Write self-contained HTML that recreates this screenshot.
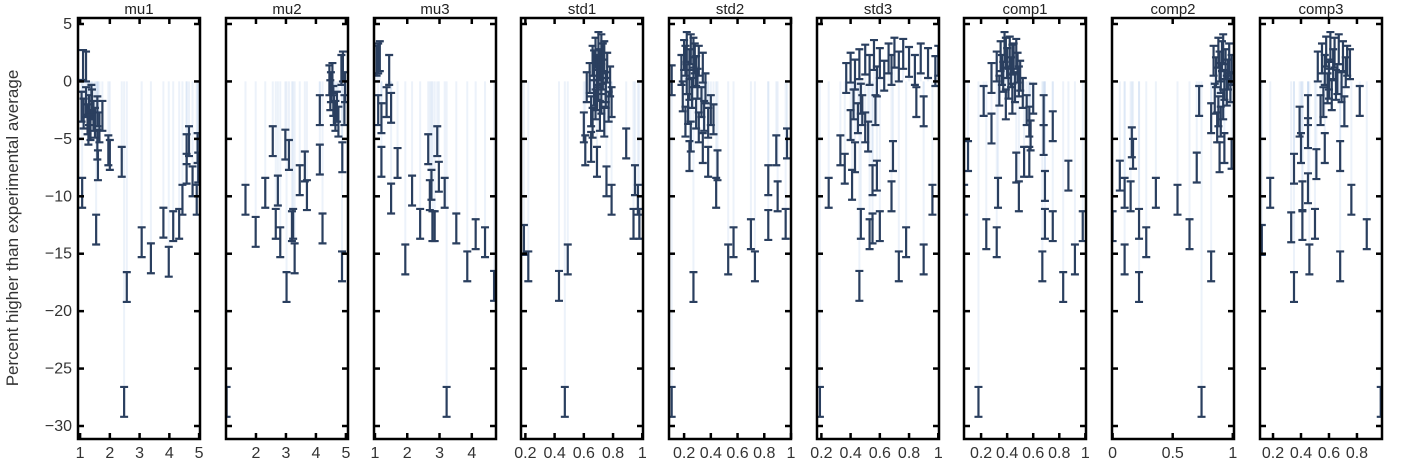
<!DOCTYPE html>
<html><head><meta charset="utf-8"><style>
html,body{margin:0;padding:0;background:#fff;}
svg{display:block;font-family:"Liberation Sans",Arial,sans-serif;}
</style></head><body>
<svg id="chart" width="1420" height="472" viewBox="0 0 1420 472">
<text x="18" y="228" transform="rotate(-90 18 228)" text-anchor="middle" font-size="17" fill="#333">Percent higher than experimental average</text>
</svg>
<script>
const yTicks=[5,0,-5,-10,-15,-20,-25,-30];
const yTickLabels=["5","0","−5","−10","−15","−20","−25","−30"];
const errHalf=1.3;
const panelNames=["mu1","mu2","mu3","std1","std2","std3","comp1","comp2","comp3"];
const panelRanges=[[0.93,5.03],[1.0,5.07],[0.97,4.75],[0.17,1.005],[0.087,1.0],[0.17,1.005],[0.069,1.005],[-0.005,1.01],[0.107,0.979]];
const panelTicks=[[1,2,3,4,5],[2,3,4,5],[1,2,3,4],[0.2,0.4,0.6,0.8,1],[0.2,0.4,0.6,0.8,1],[0.2,0.4,0.6,0.8,1],[0.2,0.4,0.6,0.8,1],[0,0.5,1],[0.2,0.4,0.6,0.8]];
const panelTickLabels=[["1","2","3","4","5"],["2","3","4","5"],["1","2","3","4"],["0.2","0.4","0.6","0.8","1"],["0.2","0.4","0.6","0.8","1"],["0.2","0.4","0.6","0.8","1"],["0.2","0.4","0.6","0.8","1"],["0","0.5","1"],["0.2","0.4","0.6","0.8"]];

const mu1X=[1.1,1.2,1.05,1.12,1.2,1.25,1.3,1.35,1.4,1.45,1.5,1.58,1.65,1.75,1.38,1.28,1.07,1.54,1.6,1.58,1.95,2.0,2.4,2.57,2.48,3.07,3.38,3.8,3.98,4.13,4.33,4.44,4.58,4.58,4.66,4.78,4.92,4.95,4.97];
const mu1Y=[1.43,1.3,-2.2,-2.8,-1.8,-3.3,-2.5,-3.8,-2.0,-3.0,-3.6,-2.6,-4.0,-3.0,-1.6,-4.2,-9.7,-12.9,-7.3,-5.5,-6.0,-6.4,-7.0,-17.9,-27.9,-14.0,-15.4,-12.3,-15.7,-12.6,-12.4,-10.3,-7.6,-5.9,-5.2,-8.7,-10.3,-5.8,-7.5];

const mu2X=[1.02,1.65,1.99,2.31,2.56,2.66,2.73,2.81,2.98,3.02,3.1,3.2,3.24,3.29,3.46,3.63,3.7,4.13,4.13,4.22,4.45,4.5,4.48,4.55,4.6,4.58,4.65,4.7,4.75,4.85,4.9,4.95,4.87,4.88,4.97];
const mu2Y=[-27.9,-10.3,-13.1,-9.7,-5.2,-12.4,-9.5,-14.0,-5.5,-17.9,-6.4,-12.6,-12.4,-15.4,-8.6,-7.4,-9.9,-2.5,-6.8,-12.8,0.1,-0.5,-1.2,0.3,-2.5,-1.7,-3.0,-2.2,-3.5,1.0,1.3,-2.5,-16.1,-6.6,-0.5];

const mu3X=[1.05,1.1,1.15,1.44,1.1,1.2,1.36,1.5,1.2,1.5,1.7,1.94,2.15,2.4,2.65,2.7,2.75,2.78,2.85,2.93,2.98,3.16,3.22,3.52,3.86,4.12,4.41,4.69];
const mu3Y=[1.8,2.0,2.2,1.0,-2.5,-3.2,-1.8,-2.3,-7.0,-10.2,-7.1,-15.5,-9.5,-12.4,-5.9,-9.9,-9.0,-12.6,-12.6,-5.2,-8.3,-9.7,-27.9,-12.8,-16.1,-13.3,-14.0,-17.8];

const std1X=[0.70,0.72,0.68,0.74,0.66,0.71,0.76,0.69,0.73,0.64,0.78,0.70,0.67,0.75,0.62,0.72,0.68,0.77,0.65,0.71,0.74,0.69,0.73,0.70,0.66,0.72,0.75,0.67,0.79,0.19,0.22,0.43,0.49,0.47,0.60,0.61,0.65,0.69,0.755,0.79,0.89,0.95,0.94,0.97,0.98];
const std1Y=[3.0,2.8,2.5,2.2,1.8,1.5,1.2,1.0,0.6,0.3,0.0,-0.3,-0.8,-1.0,-0.5,-1.5,-2.0,-2.2,-2.6,-3.0,-3.5,-1.2,2.0,0.8,-3.6,0.2,-0.5,1.4,-1.8,-13.8,-16.1,-17.8,-15.5,-27.9,-4.0,-6.0,-5.7,-7.0,-8.7,-10.3,-5.4,-8.6,-12.4,-10.3,-12.4];

const std2X=[0.22,0.25,0.2,0.28,0.24,0.31,0.18,0.27,0.34,0.22,0.3,0.36,0.19,0.26,0.33,0.23,0.29,0.35,0.21,0.31,0.38,0.25,0.4,0.42,0.27,0.21,0.29,0.24,0.107,0.107,0.24,0.27,0.34,0.38,0.44,0.45,0.53,0.57,0.70,0.73,0.83,0.83,0.89,0.90,0.96,0.97];
const std2Y=[3.0,2.8,2.3,2.0,1.5,1.8,1.0,0.8,1.2,0.2,-0.2,-0.6,-1.3,-1.0,-1.8,-2.4,-2.8,-3.0,-3.5,-4.0,-3.6,-4.8,-2.5,-3.3,2.5,1.8,0.9,-0.3,0.1,-27.9,-6.5,-17.9,-5.8,-7.0,-9.7,-7.3,-15.5,-14.0,-13.3,-16.1,-8.6,-12.5,-6.0,-10.0,-12.4,-5.4];

const std3X=[0.37,0.4,0.43,0.46,0.5,0.53,0.56,0.6,0.63,0.66,0.7,0.73,0.76,0.8,0.84,0.88,0.93,0.98,1.0,0.58,0.68,0.42,0.45,0.48,0.5,0.52,0.4,0.47,0.19,0.25,0.33,0.36,0.41,0.43,0.47,0.46,0.53,0.55,0.55,0.58,0.6,0.57,0.69,0.68,0.73,0.78,0.9,0.96,0.85,0.9];
const std3Y=[0.3,1.2,0.6,1.5,1.9,1.0,2.3,1.6,0.5,2.0,2.5,1.3,2.4,1.7,1.0,2.0,1.6,0.9,1.8,0.0,1.0,-2.0,-3.2,-2.5,-4.0,-4.8,-3.8,-1.5,-27.9,-9.7,-6.0,-7.6,-9.0,-6.6,-12.4,-17.8,-13.3,-8.6,-12.8,-8.2,-12.6,-2.5,-6.5,-10.0,-16.1,-14.0,-15.5,-10.3,-1.8,-2.6];

const comp1X=[0.38,0.42,0.35,0.45,0.4,0.32,0.48,0.43,0.37,0.5,0.28,0.41,0.46,0.34,0.44,0.52,0.39,0.55,0.57,0.6,0.47,0.36,0.44,0.39,0.49,0.18,0.1,0.07,0.22,0.24,0.28,0.32,0.33,0.47,0.49,0.53,0.57,0.58,0.67,0.68,0.68,0.69,0.69,0.75,0.75,0.83,0.87,0.92,0.98];
const comp1Y=[3.0,2.6,2.2,2.0,1.6,1.3,1.2,0.8,0.4,0.5,0.3,-0.2,-0.5,-0.8,-1.5,-1.0,-2.0,-2.5,-3.5,-1.5,2.4,1.0,1.9,2.5,0.0,-27.9,-6.5,-10.3,-1.7,-13.3,-4.1,-14.0,-9.7,-7.5,-10.0,-7.0,-7.0,-4.7,-16.1,-2.5,-5.1,-9.1,-12.4,-3.9,-12.6,-17.9,-8.2,-15.5,-12.6];

const comp2X=[0.84,0.88,0.91,0.94,0.97,0.86,0.9,0.93,0.96,0.99,0.85,0.88,0.82,0.87,0.9,0.92,0.95,0.98,0.89,0.92,0.0,0.06,0.1,0.1,0.15,0.16,0.17,0.22,0.22,0.28,0.36,0.54,0.64,0.7,0.72,0.74,0.82,0.89,0.93,0.99];
const comp2Y=[1.8,2.5,2.2,1.5,2.0,0.8,0.3,-0.3,0.6,1.0,-1.5,-2.6,-3.2,-4.0,-3.5,-2.0,-0.8,-0.5,1.3,2.8,-12.6,-8.2,-9.7,-15.5,-10.0,-5.3,-6.3,-12.4,-17.9,-14.0,-9.7,-10.3,-13.3,-7.5,-1.7,-27.9,-16.1,-6.6,-5.8,-6.3];

const comp3X=[0.55,0.58,0.61,0.64,0.67,0.7,0.73,0.57,0.6,0.63,0.66,0.69,0.72,0.75,0.59,0.62,0.65,0.52,0.56,0.6,0.12,0.18,0.33,0.35,0.35,0.39,0.4,0.41,0.41,0.45,0.45,0.46,0.45,0.5,0.51,0.54,0.57,0.68,0.68,0.71,0.76,0.82,0.87,0.97];
const comp3Y=[2.0,2.6,3.0,2.5,2.8,2.2,1.8,1.0,0.6,1.5,0.2,-0.5,0.8,1.5,-0.6,-1.2,-0.3,1.3,-1.8,-0.2,-13.8,-9.7,-12.7,-17.9,-7.6,-3.5,-5.8,-10.0,-12.5,-2.5,-4.5,-15.5,-9.3,-12.4,-7.2,-2.5,-5.8,-6.5,-16.1,-2.6,-10.3,-1.7,-13.3,-27.9];

const panelX=[mu1X,mu2X,mu3X,std1X,std2X,std3X,comp1X,comp2X,comp3X];
const panelY=[mu1Y,mu2Y,mu3Y,std1Y,std2Y,std3Y,comp1Y,comp2Y,comp3Y];

const NS="http://www.w3.org/2000/svg";
const svg=document.getElementById('chart');
const lefts=[78,226,374,521,669,817,964,1112,1260];
const PW=122, TOP=18, BOT=439;
function yScale(v){return 24+(5-v)*(402/35);}
function mk(tag,attrs,parent){const e=document.createElementNS(NS,tag);for(const k in attrs)e.setAttribute(k,attrs[k]);(parent||svg).appendChild(e);return e;}

const defs=mk('defs',{});
panelNames.forEach((name,p)=>{
  const L=lefts[p], R=L+PW, [x0,x1]=panelRanges[p];
  const xScale=v=>L+(v-x0)/(x1-x0)*PW;
  const cp=mk('clipPath',{id:'clip'+p},defs);
  mk('rect',{x:L,y:TOP,width:PW,height:BOT-TOP},cp);
  const g=mk('g',{'clip-path':'url(#clip'+p+')'});
  
  
  const xs=panelX[p], ys=panelY[p];
  for(let i=0;i<xs.length;i++){
    const px=xScale(xs[i]);
    const st=mk('line',{x1:px,x2:px,y1:yScale(0),y2:yScale(ys[i]),stroke:'rgba(170,195,230,0.22)','stroke-width':2},g);
    
    
  }
  for(let i=0;i<xs.length;i++){
    const px=xScale(xs[i]);
    const yt=yScale(ys[i]+errHalf), yb=yScale(ys[i]-errHalf);
    const eb=mk('path',{d:`M${px},${yt}V${yb}M${px-4},${yt}H${px+4}M${px-4},${yb}H${px+4}`,stroke:'#2a3f5f','stroke-width':2.2,fill:'none'},g);
    
    
  }
  yTicks.forEach((t,k)=>{
    const y=yScale(t);
    mk('line',{x1:L,x2:L+6,y1:y,y2:y,stroke:'#000','stroke-width':2.5});
    mk('line',{x1:R-6,x2:R,y1:y,y2:y,stroke:'#000','stroke-width':2.5});
    if(p===0){
      const tl=mk('text',{x:L-6,y:y+5,'text-anchor':'end','font-size':16,fill:'#333'});
      tl.textContent=yTickLabels[k];
      
      
    }
  });
  panelTicks[p].forEach((t,k)=>{
    const x=xScale(t);
    mk('line',{x1:x,x2:x,y1:BOT-6,y2:BOT,stroke:'#000','stroke-width':2.5});
    mk('line',{x1:x,x2:x,y1:TOP,y2:TOP+6,stroke:'#000','stroke-width':2.5});
    const tl=mk('text',{x:x,y:458,'text-anchor':'middle','font-size':16,fill:'#333'});
    tl.textContent=panelTickLabels[p][k];
    
    
  });
  const fr=mk('rect',{x:L,y:TOP,width:PW,height:BOT-TOP,fill:'none',stroke:'#000','stroke-width':2.5});
  
  
  const tt=mk('text',{x:L+PW/2,y:14,'text-anchor':'middle','font-size':15,fill:'#222'});
  tt.textContent=name;
  
  
});
</script>
</body></html>
